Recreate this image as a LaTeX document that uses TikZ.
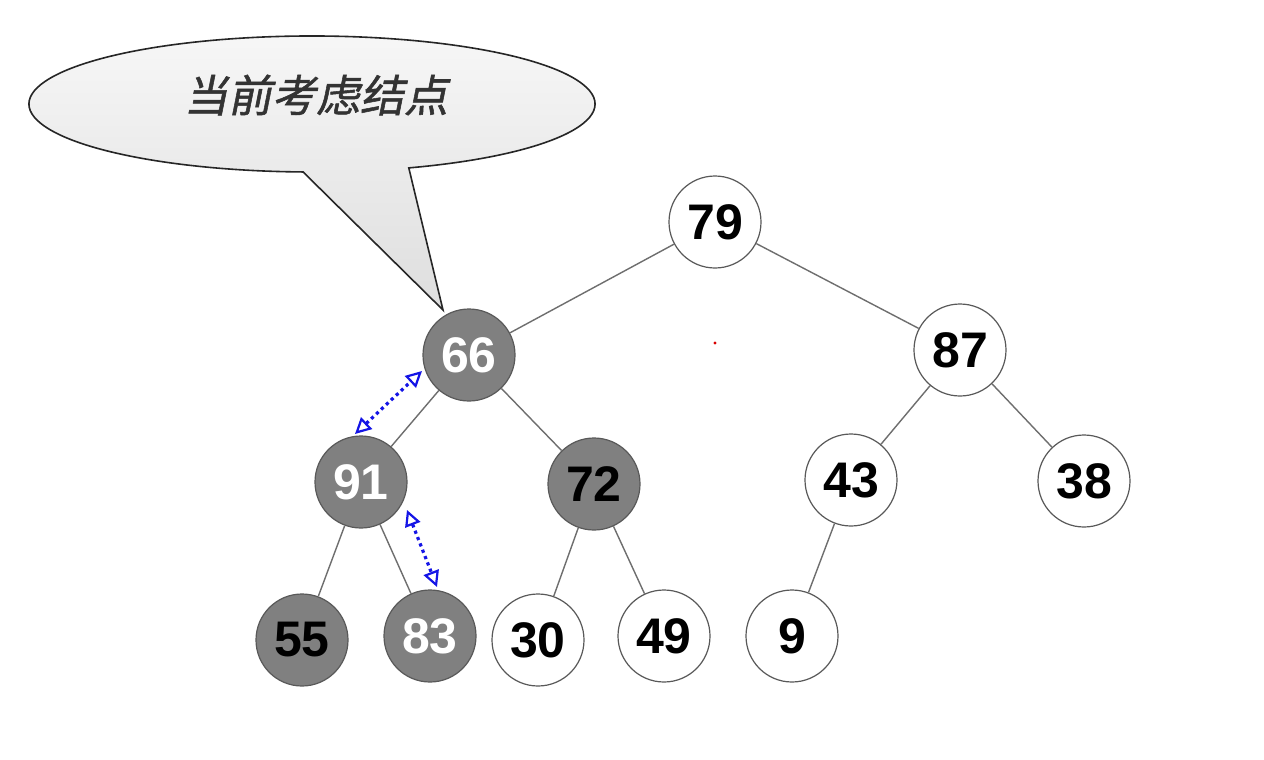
\documentclass[tikz,border=0pt]{standalone}
\usepackage{fontspec}
\setmainfont{Liberation Sans}
\newfontfamily\cjk[FakeSlant=0.2,FakeBold=1.2]{Noto Sans CJK SC}
\usetikzlibrary{arrows.meta}
\definecolor{nodegray}{HTML}{808080}
\definecolor{edgegray}{HTML}{6E6E6E}
\definecolor{arrowblue}{HTML}{1414E6}
\begin{document}
\begin{tikzpicture}[x=0.5pt,y=-0.5pt,
  hnode/.style={circle, draw=black!65, line width=0.6pt, minimum size=46pt, inner sep=0pt,
    font=\fontsize{25}{25}\selectfont\bfseries},
  wnode/.style={hnode, fill=white, text=black},
  dnode/.style={hnode, fill=nodegray, text=white},
  dbnode/.style={hnode, fill=nodegray, text=black},
  edge/.style={draw=edgegray, line width=0.7pt},
  swaparrow/.style={draw=arrowblue, line width=1.6pt, dash pattern=on 1.6pt off 1.8pt,
    {Triangle[open,length=8pt,width=8pt,line width=1.1pt]}-{Triangle[open,length=8pt,width=8pt,line width=1.1pt]}},
  callout/.style={draw=black!85, line width=0.8pt, top color=gray!6, bottom color=gray!26}
]
\useasboundingbox (0,0) rectangle (1264,760);
\fill[white] (0,0) rectangle (1264,760);

% callout
\path[callout] (312,104) ++(70:283 and 68)
  arc[start angle=70, end angle=-268.2, x radius=283, y radius=68]
  -- (443,310) -- cycle;
\node[font=\cjk\fontsize{22}{22}\selectfont, text=black!80] (lbl) at (316,95) {当前考虑结点};

% nodes
\node[wnode]  (n79) at (715,222) {79};
\node[dnode]  (n66) at (469,355) {66};
\node[wnode]  (n87) at (960,350) {87};
\node[dnode]  (n91) at (361,482) {91};
\node[dbnode] (n72) at (594,484) {72};
\node[wnode]  (n43) at (851,480) {43};
\node[wnode]  (n38) at (1084,481) {38};
\node[dbnode] (n55) at (302,640) {55};
\node[dnode]  (n83) at (430,636) {83};
\node[wnode]  (n30) at (538,640) {30};
\node[wnode]  (n49) at (664,636) {49};
\node[wnode]  (n9)  at (792,636) {9};

% edges
\draw[edge] (n79) -- (n66);
\draw[edge] (n79) -- (n87);
\draw[edge] (n66) -- (n91);
\draw[edge] (n66) -- (n72);
\draw[edge] (n87) -- (n43);
\draw[edge] (n87) -- (n38);
\draw[edge] (n91) -- (n55);
\draw[edge] (n91) -- (n83);
\draw[edge] (n72) -- (n30);
\draw[edge] (n72) -- (n49);
\draw[edge] (n43) -- (n9);

% swap arrows
\coordinate (s1a) at (355,434);
\coordinate (s1b) at (422,371);
\coordinate (s2a) at (407,510);
\coordinate (s2b) at (437,587);
\draw[swaparrow] (s1a) -- (s1b);
\draw[swaparrow] (s2a) -- (s2b);

% small red dot
\fill[red!85!black] (715,343) circle (1.6);
\end{tikzpicture}
\end{document}
